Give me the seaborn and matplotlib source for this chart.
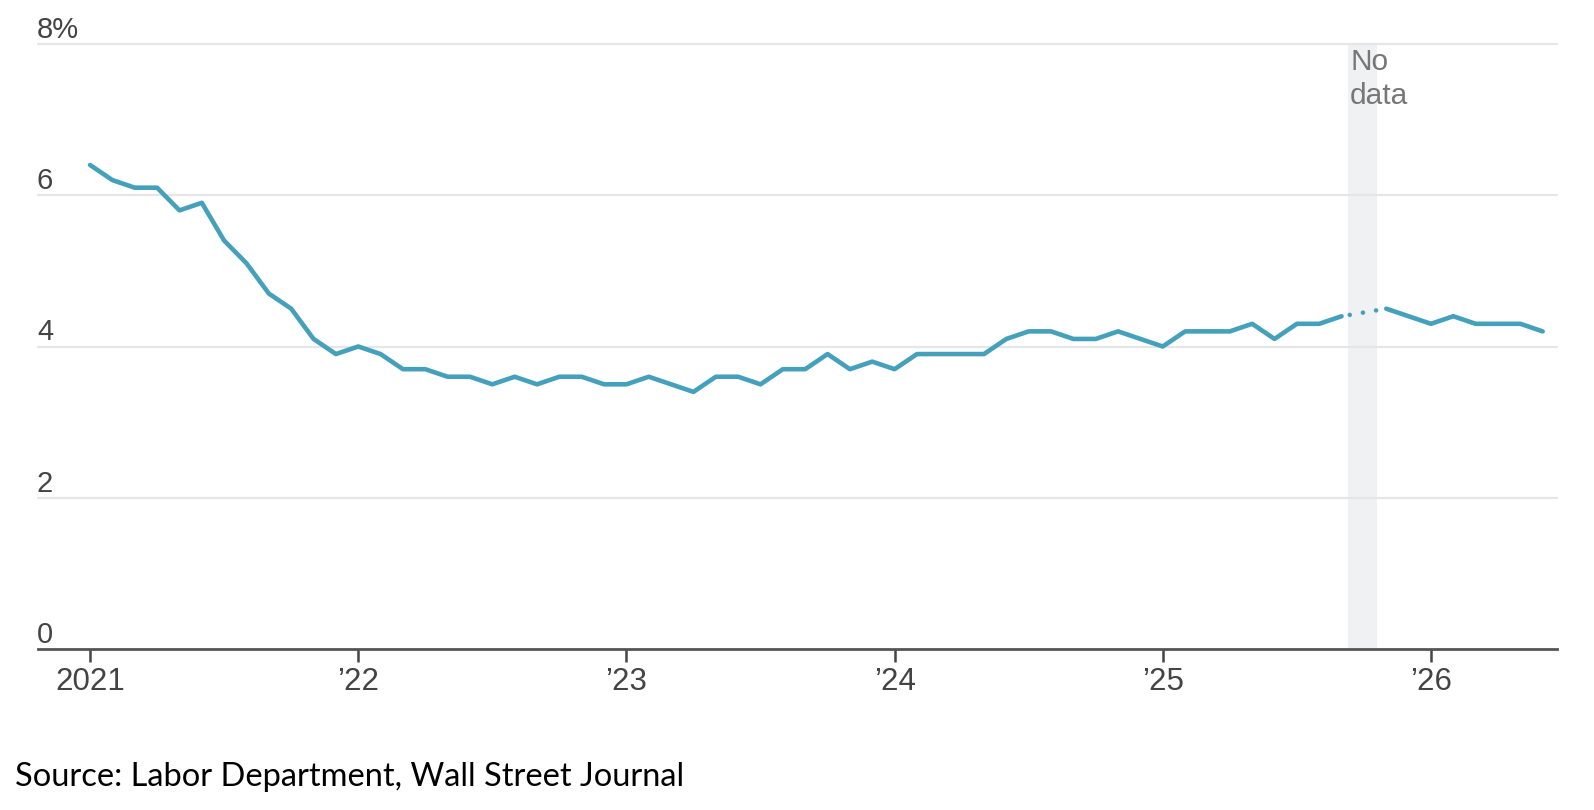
import numpy as np
import pandas as pd
import matplotlib
matplotlib.use("Agg")
import matplotlib.pyplot as plt
import matplotlib.transforms as mtransforms
from matplotlib import font_manager as fm
import seaborn as sns

# ── data (monthly unemployment rate, %) ──
rate_2021 = [6.4, 6.2, 6.1, 6.1, 5.8, 5.9, 5.4, 5.1, 4.7, 4.5, 4.1, 3.9]
rate_2022 = [4.0, 3.9, 3.7, 3.7, 3.6, 3.6, 3.5, 3.6, 3.5, 3.6, 3.6, 3.5]
rate_2023 = [3.5, 3.6, 3.5, 3.4, 3.6, 3.6, 3.5, 3.7, 3.7, 3.9, 3.7, 3.8]
rate_2024 = [3.7, 3.9, 3.9, 3.9, 3.9, 4.1, 4.2, 4.2, 4.1, 4.1, 4.2, 4.1]
rate_2025 = [4.0, 4.2, 4.2, 4.2, 4.3, 4.1, 4.3, 4.3, 4.4, np.nan, 4.5, 4.4]
rate_2026 = [4.3, 4.4, 4.3, 4.3, 4.3, 4.2]
rate = rate_2021 + rate_2022 + rate_2023 + rate_2024 + rate_2025 + rate_2026
month_idx = list(range(len(rate)))
gap_month = 57  # no data

year_ticks = [0, 12, 24, 36, 48, 60]
year_labels = ["2021", "\u201922", "\u201923", "\u201924", "\u201925", "\u201926"]
y_ticks = [0, 2, 4, 6, 8]
y_labels = ["0", "2", "4", "6", "8%"]

SOURCE = "Source: Labor Department, Wall Street Journal"
LINE = "#45a1bb"
TXT = "#444444"

sns.set_theme(style="white")
names = {f.name for f in fm.fontManager.ttflist}
tick_font = "Liberation Sans Narrow" if "Liberation Sans Narrow" in names else "Liberation Sans"
plt.rcParams["font.family"] = [tick_font, "DejaVu Sans"]

df = pd.DataFrame({"month": month_idx, "rate": rate})
df["seg"] = (df["month"] > gap_month).astype(int)
solid = df.dropna()
bridge = df[df["month"].isin([gap_month - 1, gap_month + 1])]

W, H = 1594, 810
fig = plt.figure(figsize=(W / 100, H / 100), dpi=100)
ax = fig.add_axes([38 / W, (H - 649) / H, (1557 - 38) / W, (649 - 44) / H])

# no-data band + grid
ax.axvspan(gap_month - 0.7, gap_month + 0.6, color="#f0f1f3", lw=0, zorder=0)
for v in y_ticks[1:]:
    ax.axhline(v, color="#e6e6e6", lw=1.6, zorder=1, clip_on=False)

sns.lineplot(data=solid, x="month", y="rate", units="seg", estimator=None,
             color=LINE, lw=3.3, ax=ax, zorder=3)
sns.lineplot(data=bridge, x="month", y="rate", estimator=None, color=LINE, lw=3.3,
             ax=ax, zorder=3, linestyle=(1.1, (0.01, 2.9)), dash_capstyle="round")

ax.set_xlim(-2.33, 65.64)
ax.set_ylim(0, 8)
ax.set_xlabel("")
ax.set_ylabel("")

sns.despine(ax=ax, left=True, top=True, right=True)
ax.spines["bottom"].set_color("#555555")
ax.spines["bottom"].set_linewidth(2)
ax.spines["bottom"].set_zorder(4)

ax.set_xticks(year_ticks)
ax.set_xticklabels(year_labels)
ax.tick_params(axis="x", direction="out", length=9, width=1.8, color="#444444",
               pad=4, labelsize=22.5, labelcolor=TXT, bottom=True)
ax.set_yticks([])

ytrans = mtransforms.offset_copy(ax.get_yaxis_transform(), fig=fig, x=-1, y=6, units="dots")
for v, lab in zip(y_ticks, y_labels):
    ax.text(0, v, lab, transform=ytrans, ha="left", va="baseline",
            fontsize=21, color=TXT)

ax.text(gap_month - 0.62, 7.95, "No\ndata", ha="left", va="top", fontsize=21.5,
        color="#777777", linespacing=1.3, zorder=5)

src = fig.text(15 / W, (H - 786) / H, SOURCE, ha="left", va="baseline",
               fontsize=22, color="black", family=["Lato", "DejaVu Sans"])
fig.canvas.draw()
w = src.get_window_extent().width
src.set_fontsize(22 * 668 / w)

fig.savefig("out.png", dpi=100)
